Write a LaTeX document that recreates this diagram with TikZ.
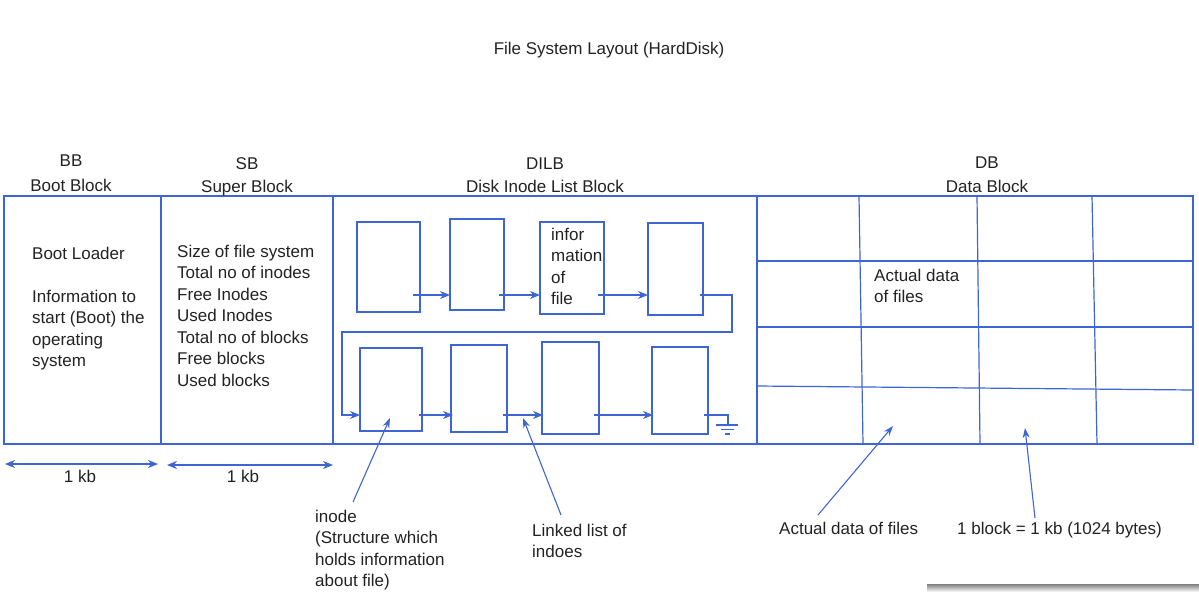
\documentclass[tikz,border=0pt]{standalone}
\usepackage{fontspec}
\setmainfont{Liberation Sans}
\usepackage{xcolor}
\usepackage{tikz}
\usetikzlibrary{arrows.meta,positioning,calc}
\definecolor{ink}{HTML}{222222}
\definecolor{wire}{HTML}{3D66D4}
\definecolor{shade}{HTML}{F3F3F5}

\begin{document}
\begin{tikzpicture}[
 x=1pt,y=-1pt,
 region/.style={draw=wire,line width=1.3pt,anchor=north west,inner sep=0pt,outer sep=0pt},
 inodebox/.style={draw=wire,line width=1.2pt,anchor=north west,inner sep=0pt,outer sep=0pt},
 txt/.style={text=ink,font=\fontsize{17}{21.5}\selectfont,inner sep=0pt,align=left,anchor=base west},
 heading/.style={text=ink,font=\fontsize{17}{21.5}\selectfont,inner sep=0pt,align=center,anchor=base},
 cell/.style={draw=wire,line width=1.2pt},
 link/.style={draw=wire,line width=1.2pt,-{Stealth[length=10pt,width=8pt]}},
 extent/.style={draw=wire,line width=1.2pt,{Stealth[length=10pt,width=8pt]}-{Stealth[length=10pt,width=8pt]}},
 pointer/.style={draw=wire,line width=1.1pt,-{Stealth[length=10pt,width=7pt]}}
]
\useasboundingbox (0,0) rectangle (1199,592);
\fill[shade] (927,584) rectangle (1199,592);
\node[heading] (title) at (609,54) {File System Layout (HardDisk)};
% the four regions of the disk (multi-line texts sit on their last baseline)
\node[region,minimum width=157,minimum height=248] (bb) at (4,196) {};
\node[region,minimum width=172,minimum height=248] (sb) at (161,196) {};
\node[region,minimum width=424,minimum height=248] (dilb) at (333,196) {};
\node[region,minimum width=436,minimum height=248] (db) at (757,196) {};
\node[heading] (bbhead) at (71,191) {BB\\[3pt]Boot Block};
\node[heading] (sbhead) at (247,192) {SB\\[1.5pt]Super Block};
\node[heading] (dilbhead) at (545,192) {DILB\\[1.5pt]Disk Inode List Block};
\node[heading] (dbhead) at (987,192) {DB\\[2pt]Data Block};
\node[txt] (bootinfo) at (32,366.5) {Boot Loader\\[21.5pt]Information to\\start (Boot) the\\operating\\system};
\node[txt] (superinfo) at (177,386) {Size of file system\\Total no of inodes\\Free Inodes\\Used Inodes\\Total no of blocks\\Free blocks\\Used blocks};
% inodes
\node[inodebox,minimum width=63,minimum height=90] (t1) at (357,222) {};
\node[inodebox,minimum width=54,minimum height=91] (t2) at (450,219) {};
\node[inodebox,minimum width=64,minimum height=92] (t3) at (540,222) {};
\node[inodebox,minimum width=55,minimum height=92] (t4) at (648,223) {};
\node[inodebox,minimum width=62,minimum height=83] (b1) at (360,348) {};
\node[inodebox,minimum width=56,minimum height=87] (b2) at (451,345) {};
\node[inodebox,minimum width=57,minimum height=92] (b3) at (542,342) {};
\node[inodebox,minimum width=56,minimum height=87] (b4) at (652,347) {};
\node[txt] (info) at (551,304.5) {infor\\mation\\of\\file};
\coordinate (rowa) at (0,295);
\coordinate (rowb) at (0,415);
\coordinate (wrapR) at (732,332);
\coordinate (wrapL) at (342,332);
\coordinate (gnd) at (728,425);
\draw[link] ($(t1.east |- rowa)+(-7,0)$) -- (t2.west |- rowa);
\draw[link] ($(t2.east |- rowa)+(-5,0)$) -- (t3.west |- rowa);
\draw[link] ($(t3.east |- rowa)+(-6,0)$) -- (t4.west |- rowa);
\draw[link] ($(t4.east |- rowa)+(-3,0)$) -| (wrapR) -- (wrapL) |- (b1.west |- rowb);
\draw[link] ($(b1.east |- rowb)+(-3,0)$) -- ($(b2.west |- rowb)+(2,0)$);
\draw[link] ($(b2.east |- rowb)+(-4,0)$) -- ($(b3.west |- rowb)+(1,0)$);
\draw[link] ($(b3.east |- rowb)+(-5,0)$) -- ($(b4.west |- rowb)+(1,0)$);
\draw[cell] ($(b4.east |- rowb)+(-4,0)$) -| (gnd);
\draw[cell] ($(gnd)+(-12,0)$) -- ($(gnd)+(10,0)$);
\draw[cell] ($(gnd)+(-7,4.5)$) -- ($(gnd)+(6,4.5)$);
\draw[cell] ($(gnd)+(-3,9)$) -- ($(gnd)+(2,9)$);
% data block grid
\draw[cell] (859,196) -- (863,444);
\draw[cell] (977,196) -- (980,444);
\draw[cell] (1092,196) -- (1097,444);
\draw[cell] (757,261) -- (1193,261);
\draw[cell] (757,327) -- (1193,327);
\draw[cell] (757,386) -- (1193,390);
\node[txt] (celldata) at (874,302.5) {Actual data\\of files};
% sizes
\draw[extent] ([xshift=1pt,yshift=-20pt]bb.south west) -- ([xshift=-3pt,yshift=-20pt]bb.south east);
\draw[extent] ([xshift=6pt,yshift=-21pt]sb.south west) -- ([yshift=-21pt]sb.south east);
\node[heading] (kb1) at (80,482) {1 kb};
\node[heading] (kb2) at (243,482) {1 kb};
% callouts
\node[txt] (inodelbl) at (315,586.5) {inode\\(Structure which\\holds information\\about file)};
\node[txt] (listlbl) at (532,557.5) {Linked list of\\indoes};
\node[txt] (datalbl) at (779,534) {Actual data of files};
\node[txt] (blocklbl) at (957,534) {1 block = 1 kb (1024 bytes)};
\coordinate (inodetip) at (390,418);
\coordinate (listtip) at (523,418);
\coordinate (datatip) at (893,426);
\coordinate (blocktip) at (1025,428);
\draw[pointer] (353,502) -- (inodetip);
\draw[pointer] (561,515) -- (listtip);
\draw[pointer] (818,515) -- (datatip);
\draw[pointer] (1035,518) -- (blocktip);
\end{tikzpicture}
\end{document}
